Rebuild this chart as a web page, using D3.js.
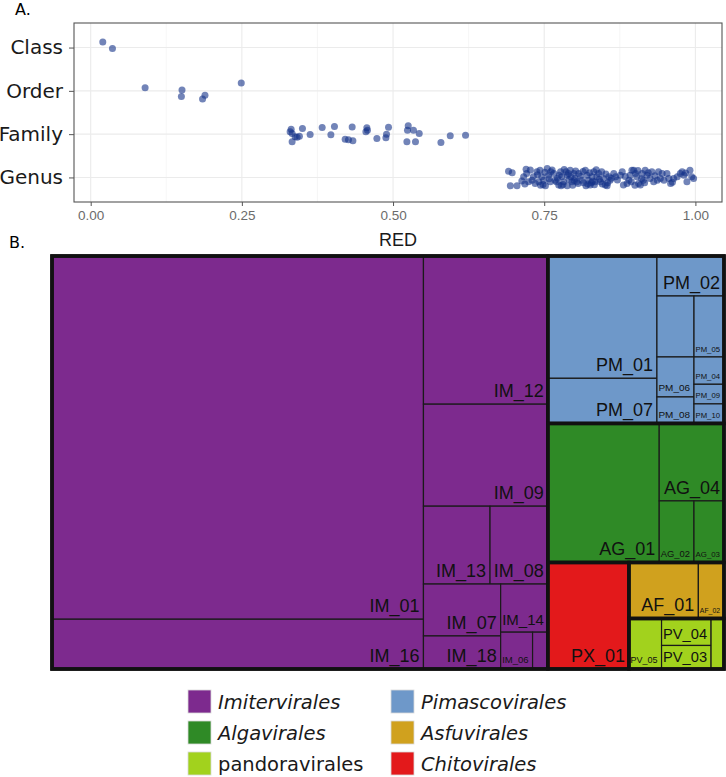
<!DOCTYPE html>
<html>
<head>
<meta charset="utf-8">
<script src="https://cdn.jsdelivr.net/npm/d3@7"></script>
<style>
  body { margin: 0; background: #fff; }
  svg { display: block; }
</style>
</head>
<body>
<div id="chart"></div>
<script>
// ---- panel A: RED per taxonomic rank (jitter) ----
var ranks = ["Class", "Order", "Family", "Genus"];
var redTicks = [0, 0.25, 0.5, 0.75, 1];

var classRed    = [0.020, 0.036];
var classJitter = [-0.13, 0.02];

var orderRed    = [0.090, 0.151, 0.150, 0.189, 0.185, 0.249];
var orderJitter = [-0.07, -0.02, 0.13, 0.10, 0.19, -0.18];

var familyRed = [0.3315, 0.3331, 0.3381, 0.3331, 0.3502, 0.3452, 0.3629, 0.3828, 0.3972, 0.4031,
                 0.4208, 0.4263, 0.4336, 0.4324, 0.4567, 0.4577, 0.4551, 0.4733, 0.4882, 0.4892,
                 0.4925, 0.5251, 0.5239, 0.5338, 0.5433, 0.5229, 0.5371, 0.5792, 0.5946, 0.6199,
                 0.3298, 0.3414];
var familyJitter = [-0.115, -0.016, 0.062, 0.178, -0.131, 0.046, 0.007, -0.154, 0.016, -0.178,
                    0.115, 0.132, 0.155, -0.168, -0.145, -0.092, -0.053, 0.099, 0.085, 0.0,
                    -0.162, -0.192, -0.092, -0.092, -0.016, 0.178, 0.178, 0.192, 0.039, 0.023,
                    -0.058, 0.069];

var genusRed = [0.691, 0.697, 0.694, 0.705, 0.716, 0.720, 0.721, 0.724, 0.730, 0.732,
                0.738, 0.741, 0.743, 0.746, 0.749, 0.755, 0.752, 0.757, 0.760, 0.766,
                0.768, 0.774, 0.777, 0.779, 0.782, 0.783, 0.788, 0.790, 0.793, 0.794,
                0.796, 0.799, 0.801, 0.804, 0.807, 0.812, 0.818, 0.821, 0.823, 0.826,
                0.829, 0.832, 0.834, 0.837, 0.840, 0.843, 0.845, 0.848, 0.851, 0.854,
                0.857, 0.859, 0.865, 0.868, 0.876, 0.879, 0.881, 0.887, 0.890, 0.892,
                0.895, 0.898, 0.901, 0.903, 0.906, 0.909, 0.912, 0.914, 0.917, 0.920,
                0.925, 0.928, 0.931, 0.937, 0.939, 0.942, 0.948, 0.953, 0.956, 0.959,
                0.964, 0.970, 0.975, 0.978, 0.981, 0.986, 0.991, 0.994, 0.997,
                0.727, 0.735, 0.744, 0.751, 0.758, 0.763, 0.770, 0.775, 0.781, 0.786,
                0.791, 0.797, 0.802, 0.806, 0.810, 0.815, 0.819, 0.825, 0.828, 0.833,
                0.836, 0.841, 0.846, 0.852, 0.855, 0.861, 0.871, 0.884, 0.894, 0.900,
                0.905, 0.911, 0.916, 0.922, 0.933, 0.945, 0.962, 0.984, 0.713, 0.718,
                0.739, 0.748, 0.761, 0.772, 0.778, 0.788, 0.800, 0.814, 0.822, 0.830];
var genusJitter = [-0.146, -0.107, 0.193, 0.193, -0.015, -0.192, -0.092, 0.101, 0.062, -0.015,
                   -0.130, 0.101, -0.169, -0.015, 0.062, -0.207, 0.193, -0.053, 0.101, -0.092,
                   0.062, 0.177, -0.130, -0.015, 0.101, -0.184, 0.193, -0.092, -0.169, -0.015,
                   0.101, -0.092, 0.024, 0.101, -0.092, 0.062, -0.169, -0.053, 0.062, 0.177,
                   -0.015, -0.130, 0.101, -0.015, -0.092, 0.101, -0.130, 0.024, 0.177, 0.193,
                   -0.015, 0.062, -0.092, -0.015, -0.053, -0.130, 0.177, 0.139, 0.062, -0.053,
                   -0.169, -0.169, -0.092, -0.015, 0.139, 0.177, -0.092, 0.062, -0.169, -0.053,
                   0.024, -0.130, 0.101, 0.062, -0.130, 0.024, 0.062, -0.092, 0.024, 0.139,
                   0.024, -0.015, -0.092, -0.130, -0.053, 0.101, -0.169, -0.015, 0.024,
                   -0.17, 0.14, 0.18, -0.12, 0.03, -0.17, 0.10, -0.05, 0.16, -0.13,
                   0.05, 0.18, -0.15, 0.14, -0.03, 0.12, 0.19, -0.11, 0.12, 0.17,
                   -0.18, 0.04, 0.15, -0.08, 0.12, 0.02, 0.06, -0.02, 0.10, 0.18,
                   -0.16, 0.03, 0.12, -0.11, -0.04, -0.09, 0.11, -0.10, 0.08, 0.15,
                   -0.06, 0.16, -0.13, 0.02, 0.19, -0.05, 0.07, -0.14, 0.15, 0.09];

// ---- panel B: family sizes grouped by order ----
var orderNames  = ["Imitervirales", "Pimascovirales", "Algavirales", "Asfuvirales", "pandoravirales", "Chitovirales"];
var orderColors = ["#7d2a8e", "#6e98c9", "#2f8a26", "#d0a11e", "#a2d21d", "#e3191b"];
var legendOrder = ["Imitervirales", "Algavirales", "pandoravirales", "Pimascovirales", "Asfuvirales", "Chitovirales"];

var familyNames = ["IM_01", "IM_16", "IM_12", "IM_09", "IM_13", "IM_08", "IM_07", "IM_18", "IM_14", "IM_06", "",
                   "PM_01", "PM_07", "PM_02", "", "PM_05", "PM_06", "PM_08", "PM_04", "PM_09", "PM_10",
                   "AG_01", "AG_04", "AG_02", "AG_03",
                   "PX_01",
                   "AF_01", "AF_02",
                   "PV_05", "PV_04", "PV_03", ""];
var familyOrder = ["Imitervirales", "Imitervirales", "Imitervirales", "Imitervirales", "Imitervirales", "Imitervirales",
                   "Imitervirales", "Imitervirales", "Imitervirales", "Imitervirales", "Imitervirales",
                   "Pimascovirales", "Pimascovirales", "Pimascovirales", "Pimascovirales", "Pimascovirales",
                   "Pimascovirales", "Pimascovirales", "Pimascovirales", "Pimascovirales", "Pimascovirales",
                   "Algavirales", "Algavirales", "Algavirales", "Algavirales",
                   "Chitovirales",
                   "Asfuvirales", "Asfuvirales",
                   "pandoravirales", "pandoravirales", "pandoravirales", "pandoravirales"];
var familySize = [1343, 184, 183.5, 126.3, 51.6, 44.8, 39.9, 25.4, 22.6, 11.7, 5.6,
                  132.8, 49.0, 26.7, 22.5, 18.2, 14.75, 9.77, 8.16, 5.86, 5.84,
                  154.1, 49.95, 21.3, 18.4,
                  86,
                  38.7, 14.3,
                  16.4, 13.3, 11.6, 6.5];

var W = 726, H = 777;
var svg = d3.select("#chart").append("svg").attr("width", W).attr("height", H);

// ================= panel A =================
var pL = 74, pR = 722, pT = 23, pB = 202;
var x = d3.scaleLinear().domain([-0.0276, 1.044]).range([pL, pR]);
var y = d3.scalePoint().domain(ranks).range([pT, pB]).padding(0.567);

var gA = svg.append("g");

// minor grid between major ticks
gA.selectAll("line.minor")
  .data(d3.pairs(redTicks).map(function(p) { return (p[0] + p[1]) / 2; }))
  .enter().append("line")
  .attr("x1", function(d) { return x(d); }).attr("x2", function(d) { return x(d); })
  .attr("y1", pT).attr("y2", pB)
  .style("stroke", "#f2f2f2").style("stroke-width", 0.7);

gA.selectAll("line.vmajor")
  .data(redTicks).enter().append("line")
  .attr("x1", function(d) { return x(d); }).attr("x2", function(d) { return x(d); })
  .attr("y1", pT).attr("y2", pB)
  .style("stroke", "#ebebeb").style("stroke-width", 1.1);

gA.selectAll("line.hmajor")
  .data(ranks).enter().append("line")
  .attr("x1", pL).attr("x2", pR)
  .attr("y1", function(d) { return y(d); }).attr("y2", function(d) { return y(d); })
  .style("stroke", "#ebebeb").style("stroke-width", 1.1);

// points
var points = [];
[[classRed, classJitter, "Class"], [orderRed, orderJitter, "Order"],
 [familyRed, familyJitter, "Family"], [genusRed, genusJitter, "Genus"]].forEach(function(s) {
  s[0].forEach(function(v, i) { points.push({ red: v, jit: s[1][i], rank: s[2] }); });
});
var step = y.step();
gA.selectAll("circle")
  .data(points).enter().append("circle")
  .attr("cx", function(d) { return x(d.red); })
  .attr("cy", function(d) { return y(d.rank) + d.jit * step; })
  .attr("r", 3.5)
  .style("fill", "#143288")
  .style("fill-opacity", 0.6);

gA.append("rect")
  .attr("x", pL).attr("y", pT).attr("width", pR - pL).attr("height", pB - pT)
  .style("fill", "none").style("stroke", "#555").style("stroke-width", 1.1);

var xAxis = gA.append("g")
  .attr("transform", "translate(0," + pB + ")")
  .call(d3.axisBottom(x).tickValues(redTicks).tickFormat(d3.format(".2f")).tickSize(4).tickPadding(4));
xAxis.select(".domain").remove();
xAxis.selectAll("line").style("stroke", "#555");
xAxis.selectAll("text")
  .style("font-family", "Liberation Sans, Arial, sans-serif")
  .style("font-size", "13.5px").style("fill", "#6b6b6b");

var yAxis = gA.append("g")
  .attr("transform", "translate(" + pL + ",0)")
  .call(d3.axisLeft(y).tickSize(5).tickPadding(6));
yAxis.select(".domain").remove();
yAxis.selectAll("line").style("stroke", "#555");
yAxis.selectAll("text")
  .style("font-family", "DejaVu Sans, sans-serif")
  .style("font-size", "20px").style("fill", "#1a1a1a");

gA.append("text")
  .attr("x", (pL + pR) / 2).attr("y", 246)
  .attr("text-anchor", "middle")
  .style("font-family", "Liberation Sans, Arial, sans-serif")
  .style("font-size", "18px").style("fill", "#1a1a1a")
  .text("RED");

svg.append("text").attr("x", 15).attr("y", 15)
  .style("font-family", "DejaVu Sans, sans-serif").style("font-size", "16px")
  .text("A.");
svg.append("text").attr("x", 9).attr("y", 248)
  .style("font-family", "DejaVu Sans, sans-serif").style("font-size", "16px")
  .text("B.");

// ================= panel B =================
var tmL = 52, tmR = 724, tmT = 256, tmB = 669;

// squarified-style tiling: rows follow the short side, and a row keeps
// growing while its first (largest) tile gets squarer
function tileRows(parent, x0, y0, x1, y1) {
  var nodes = parent.children, value = parent.value, i0 = 0;
  while (i0 < nodes.length) {
    var dx = x1 - x0, dy = y1 - y0;
    var column = dx >= dy;
    var side = column ? dy : dx, long = column ? dx : dy;
    var first = nodes[i0].value;
    var aspect = function(sum) {
      var thick = long * sum / value, len = side * first / sum;
      return Math.max(thick / len, len / thick);
    };
    var sum = first, best = aspect(sum), i1 = i0 + 1;
    while (i1 < nodes.length) {
      var r = aspect(sum + nodes[i1].value);
      if (r > best) break;
      best = r; sum += nodes[i1].value; i1++;
    }
    var row = { value: sum, children: nodes.slice(i0, i1) };
    if (column) {
      var nx = x0 + dx * sum / value;
      d3.treemapSlice(row, x0, y0, nx, y1); x0 = nx;
    } else {
      var ny = y0 + dy * sum / value;
      d3.treemapDice(row, x0, y0, x1, ny); y0 = ny;
    }
    value -= sum; i0 = i1;
  }
}

var tree = {
  name: "root",
  children: orderNames.map(function(o) {
    return {
      name: o,
      children: familyNames.map(function(n, i) { return { name: n, order: familyOrder[i], size: familySize[i] }; })
        .filter(function(f) { return f.order === o; })
    };
  })
};

var root = d3.hierarchy(tree)
  .sum(function(d) { return d.size || 0; })
  .sort(function(a, b) { return b.value - a.value; });

d3.treemap().size([tmR - tmL, tmB - tmT]).tile(tileRows).round(false)(root);

var color = d3.scaleOrdinal().domain(orderNames).range(orderColors);
var gB = svg.append("g").attr("transform", "translate(" + tmL + "," + tmT + ")");

var leaf = gB.selectAll("g.leaf")
  .data(root.leaves()).enter().append("g")
  .attr("transform", function(d) { return "translate(" + d.x0 + "," + d.y0 + ")"; });

leaf.append("rect")
  .attr("width", function(d) { return d.x1 - d.x0; })
  .attr("height", function(d) { return d.y1 - d.y0; })
  .style("fill", function(d) { return color(d.data.order); })
  .style("stroke", "#1a1a1a").style("stroke-width", 1.2);

// labels at bottom right, shrunk to fit the tile
var maxFont = 18, padR = 4, padL = 1.5;
leaf.append("text")
  .attr("text-anchor", "end")
  .style("font-family", "Liberation Sans, Arial, sans-serif")
  .style("font-size", maxFont + "px")
  .style("fill", "#111")
  .text(function(d) { return d.data.name; })
  .each(function(d) {
    var w = d.x1 - d.x0, h = d.y1 - d.y0;
    var len = this.getComputedTextLength();
    if (!len) { d3.select(this).remove(); return; }
    var fs = Math.min(maxFont, maxFont * (w - padR - padL) / len, (h - 6) / 1.15);
    if (fs < 4) { d3.select(this).remove(); return; }
    d3.select(this)
      .style("font-size", fs + "px")
      .attr("x", w - padR)
      .attr("y", h - 4 - fs * 0.18);
  });

gB.selectAll("rect.group")
  .data(root.children).enter().append("rect")
  .attr("x", function(d) { return d.x0; })
  .attr("y", function(d) { return d.y0; })
  .attr("width", function(d) { return d.x1 - d.x0; })
  .attr("height", function(d) { return d.y1 - d.y0; })
  .style("fill", "none").style("stroke", "#111").style("stroke-width", 3.5);

gB.append("rect")
  .attr("width", tmR - tmL).attr("height", tmB - tmT)
  .style("fill", "none").style("stroke", "#111").style("stroke-width", 3.5);

// legend, two columns of three
var legX = [188, 391], legY = [690, 721, 752], key = 23;
var leg = svg.selectAll("g.legend")
  .data(legendOrder).enter().append("g")
  .attr("transform", function(d, i) {
    return "translate(" + legX[Math.floor(i / 3)] + "," + legY[i % 3] + ")";
  });
leg.append("rect")
  .attr("width", key).attr("height", key)
  .style("fill", function(d) { return color(d); })
  .style("stroke", "#d9d9d9").style("stroke-width", 0.8);
leg.append("text")
  .attr("x", key + 7).attr("y", key / 2 + 7)
  .style("font-family", "DejaVu Sans, sans-serif")
  .style("font-size", "19.5px")
  .style("font-style", function(d) { return d === "pandoravirales" ? "normal" : "italic"; })
  .style("fill", "#1a1a1a")
  .text(function(d) { return d; });
</script>
</body>
</html>
